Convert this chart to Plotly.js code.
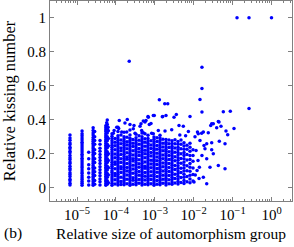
<!DOCTYPE html>
<html>
<head>
<meta charset="utf-8">
<script src="https://cdn.plot.ly/plotly-3.0.1.min.js"></script>
<style>html,body{margin:0;padding:0;background:#fff;}#chart{width:294px;height:247px;}</style>
</head>
<body>
<div id="chart"></div>
<script>
// Column x positions (relative size of automorphism group)
const colX = [
  6.6e-6, 1.35e-5, 2.0e-5, 2.6e-5, 2.85e-5, 3.9e-5, 5.5e-5, 6.0e-5, 6.4e-5,
  7.94e-5, 1.13e-4, 1.62e-4, 2.3e-4, 3.29e-4, 4.69e-4, 6.68e-4, 9.53e-4, 1.36e-3, 1.94e-3, 2.77e-3, 3.95e-3, 5.63e-3, 8.03e-3,
  9.5e-5, 1.35e-4, 1.93e-4, 2.75e-4, 3.93e-4, 5.6e-4, 7.98e-4, 1.14e-3, 1.62e-3, 2.32e-3, 3.3e-3, 4.71e-3, 6.72e-3, 9.6e-3
];
// Relative kissing numbers for each column
const colY = [
  [0.016,0.027,0.041,0.05,0.066,0.078,0.088,0.104,0.113,0.127,0.142,0.151,0.166,0.177,0.19,0.205,0.214,0.229,0.238,0.254,0.263,0.279,0.292,0.31],
  [0.015,0.026,0.036,0.049,0.058,0.07,0.083,0.092,0.105,0.117,0.128,0.139,0.151,0.163,0.174,0.186,0.197,0.21,0.222,0.233,0.245,0.257,0.268,0.281,0.293,0.305,0.318,0.333],
  [0.016,0.04,0.062,0.087,0.112,0.135,0.17,0.208],
  [0.015,0.024,0.035,0.047,0.057,0.066,0.078,0.088,0.099,0.11,0.121,0.131,0.142,0.153,0.164,0.175,0.186,0.196,0.207,0.218,0.229,0.24,0.251,0.262,0.273,0.284,0.296,0.31,0.322,0.336,0.352],
  [0.02,0.043,0.072,0.094,0.116,0.148,0.17,0.201,0.224,0.256,0.278,0.3,0.33],
  [0.016,0.035,0.052,0.07,0.088,0.106,0.124,0.142,0.16,0.178,0.196,0.214,0.232,0.255,0.278],
  [0.015,0.025,0.036,0.046,0.057,0.067,0.079,0.089,0.1,0.111,0.121,0.132,0.143,0.154,0.164,0.175,0.186,0.197,0.207,0.218,0.229,0.24,0.25,0.262,0.273,0.284,0.295,0.306,0.318,0.33,0.341,0.352,0.365],
  [0.02,0.041,0.062,0.084,0.105,0.127,0.148,0.17,0.191,0.212,0.235,0.256,0.277,0.3,0.322,0.345,0.372,0.398],
  [0.03,0.075,0.118,0.16,0.2,0.245,0.29,0.335],
  [0.015,0.027,0.04,0.052,0.063,0.077,0.089,0.1,0.114,0.126,0.137,0.15,0.163,0.175,0.188,0.2,0.212,0.225,0.238,0.25,0.263,0.276,0.289,0.302,0.318],
  [0.016,0.029,0.041,0.055,0.066,0.08,0.092,0.104,0.117,0.129,0.142,0.154,0.166,0.179,0.191,0.204,0.216,0.229,0.241,0.254,0.266,0.279,0.292,0.305,0.33,0.355],
  [0.017,0.03,0.043,0.056,0.069,0.082,0.095,0.107,0.12,0.133,0.146,0.159,0.172,0.184,0.197,0.21,0.223,0.236,0.249,0.262,0.274,0.287,0.3,0.326],
  [0.015,0.028,0.041,0.053,0.066,0.078,0.091,0.103,0.116,0.128,0.141,0.153,0.166,0.178,0.191,0.203,0.216,0.228,0.241,0.253,0.266,0.278,0.291,0.31,0.34],
  [0.018,0.031,0.044,0.057,0.07,0.083,0.096,0.109,0.122,0.135,0.148,0.161,0.174,0.187,0.2,0.213,0.226,0.239,0.252,0.265,0.278,0.294,0.315],
  [0.016,0.029,0.042,0.054,0.067,0.08,0.093,0.106,0.119,0.131,0.144,0.157,0.17,0.183,0.196,0.208,0.221,0.234,0.247,0.26,0.273,0.286,0.3,0.322],
  [0.017,0.03,0.043,0.056,0.068,0.081,0.094,0.107,0.12,0.133,0.145,0.158,0.171,0.184,0.197,0.21,0.222,0.235,0.248,0.261,0.275,0.29,0.308],
  [0.015,0.028,0.04,0.053,0.066,0.079,0.092,0.104,0.117,0.13,0.143,0.156,0.168,0.181,0.194,0.207,0.22,0.232,0.245,0.258,0.271,0.285,0.298],
  [0.018,0.031,0.044,0.057,0.07,0.083,0.096,0.108,0.121,0.134,0.147,0.16,0.173,0.186,0.199,0.212,0.225,0.238,0.251,0.264,0.278,0.292],
  [0.016,0.029,0.043,0.056,0.069,0.082,0.095,0.109,0.122,0.135,0.148,0.161,0.175,0.188,0.201,0.214,0.227,0.24,0.254,0.268,0.283],
  [0.02,0.034,0.048,0.062,0.076,0.09,0.104,0.118,0.132,0.146,0.16,0.174,0.188,0.202,0.216,0.23,0.244,0.26,0.276],
  [0.022,0.037,0.052,0.068,0.083,0.099,0.114,0.13,0.145,0.161,0.176,0.192,0.207,0.223,0.238,0.255,0.272],
  [0.025,0.043,0.061,0.079,0.098,0.116,0.134,0.152,0.17,0.189,0.207,0.226,0.245,0.265],
  [0.03,0.052,0.074,0.097,0.12,0.143,0.166,0.19,0.214,0.238,0.262],
  [0.022,0.047,0.071,0.083,0.112,0.138,0.151,0.176,0.199,0.223,0.247,0.268,0.29],
  [0.019,0.036,0.062,0.09,0.111,0.124,0.149,0.171,0.195,0.218,0.233,0.258,0.281,0.31],
  [0.024,0.05,0.075,0.098,0.119,0.143,0.168,0.18,0.205,0.229,0.252,0.27,0.297],
  [0.021,0.044,0.059,0.085,0.11,0.132,0.157,0.17,0.192,0.218,0.243,0.261,0.284],
  [0.026,0.049,0.073,0.095,0.12,0.141,0.165,0.189,0.21,0.231,0.256,0.279,0.305],
  [0.02,0.045,0.067,0.089,0.114,0.127,0.152,0.176,0.2,0.22,0.244,0.267,0.288],
  [0.023,0.048,0.07,0.094,0.118,0.139,0.161,0.186,0.207,0.23,0.251,0.276],
  [0.021,0.042,0.066,0.091,0.113,0.136,0.159,0.181,0.203,0.227,0.249,0.272,0.294],
  [0.027,0.05,0.074,0.099,0.124,0.146,0.17,0.193,0.217,0.24,0.262,0.285],
  [0.024,0.047,0.072,0.096,0.119,0.142,0.166,0.19,0.211,0.236,0.259,0.28],
  [0.028,0.055,0.08,0.107,0.131,0.158,0.182,0.209,0.233,0.258,0.282],
  [0.031,0.06,0.089,0.115,0.144,0.172,0.2,0.229,0.255,0.28],
  [0.035,0.066,0.1,0.13,0.163,0.195,0.226,0.25],
  [0.04,0.078,0.116,0.155,0.19,0.224]
];
// Scattered points outside the dense columns
const outX = [
  1.22e-4,1.71e-4,2.3e-4,2.92e-4,4.17e-4,5.06e-4,6.81e-4,9.15e-4,1.6e-3,1.94e-3,1.96e-4,1.05e-4,8.58e-5,1.41e-4,1.9e-4,2.8e-4,3.1e-4,4.6e-4,5.6e-4,8.3e-4,1.23e-3,1.36e-3,1.83e-3,
  5.8e-5,6.3e-5,9.0e-5,1.18e-4,
  6.68e-4,9.7e-4,1.56e-3,3.12e-3,3.57e-3,8.03e-3,5.94e-4,7.98e-4,1.31e-3,1.8e-3,2.15e-3,
  1.63e-2,1.63e-2,1.45e-2,1.63e-2,0.0577,0.0873,0.264,0.0429,0.029,0.13,0.264,1.0,2.2e-4,
  4.42e-4,5.6e-4,7.22e-4,4.19e-3,5.4e-3,2.74e-2,3.19e-2,4.47e-2,5.03e-2,5.06e-4,9.15e-4,2.72e-3,1.77e-2,2.37e-2,3.9e-2,6.76e-2,7.48e-2,0.1086,1.31e-2,1.6e-2,
  2.9e-2,4.55e-2,6.38e-2,2.16e-2,1.95e-2,2.9e-2,4.29e-2,6.38e-2,2.16e-2,2.62e-2,3.19e-2,1.77e-2,2.16e-2,
  1.15e-2,1.29e-2,1.45e-2,1.22e-2,1.37e-2,1.02e-2,1.63e-2,1.84e-2,1.08e-2,1.25e-2,6.2e-3,7.3e-3,4.4e-3,1.1e-2,1.4e-2
];
const outY = [
  0.396,0.38,0.372,0.366,0.361,0.392,0.415,0.425,0.419,0.425,0.401,0.356,0.321,0.327,0.327,0.347,0.321,0.337,0.318,0.321,0.337,0.308,0.334,
  0.382,0.356,0.337,0.349,
  0.419,0.425,0.418,0.415,0.43,0.419,0.396,0.378,0.518,0.494,0.494,
  0.708,0.584,0.519,0.445,0.447,0.449,0.466,0.39,0.376,1.0,1.0,1.0,0.743,
  0.376,0.386,0.372,0.366,0.362,0.366,0.376,0.386,0.361,0.324,0.318,0.341,0.327,0.324,0.353,0.333,0.312,0.349,0.318,0.321,
  0.265,0.274,0.259,0.259,0.229,0.224,0.131,0.112,0.171,0.121,0.2,0.062,0.024,
  0.219,0.16,0.278,0.102,0.055,0.033,0.19,0.249,0.3,0.327,0.305,0.33,0.31,0.075,0.12
];
// Axis tick values and labels
const xTickVals = [1e-5, 1e-4, 1e-3, 1e-2, 1e-1, 1];
const xTickText = ['10<sup>−5</sup>','10<sup>−4</sup>','10<sup>−3</sup>','10<sup>−2</sup>','10<sup>−1</sup>','10<sup>0</sup>'];
const yTickVals = [0, 0.2, 0.4, 0.6, 0.8, 1];
const yTickText = ['0','0.2','0.4','0.6','0.8','1'];

const xs = [], ys = [];
colX.forEach((cx, i) => { colY[i].forEach(v => { xs.push(cx); ys.push(v); }); });
outX.forEach((v, i) => { xs.push(v); ys.push(outY[i]); });

const frame = '#808080';
const fontFam = 'Liberation Serif, serif';
const data = [{
  type: 'scatter', mode: 'markers', x: xs, y: ys,
  marker: {color: '#0000ff', size: 3.5, line: {width: 0}},
  hoverinfo: 'skip'
}];
const layout = {
  width: 294, height: 247,
  margin: {l: 50, r: 2, t: 1, b: 46},
  paper_bgcolor: '#ffffff', plot_bgcolor: '#ffffff',
  showlegend: false,
  font: {family: fontFam, size: 15, color: '#000'},
  xaxis: {
    type: 'log', range: [-5.694, 0.527],
    tickmode: 'array', tickvals: xTickVals, ticktext: xTickText,
    ticks: 'inside', ticklen: 4, tickcolor: frame, tickwidth: 1,
    minor: {ticks: 'inside', ticklen: 2, tickcolor: frame, dtick: 'D1', showgrid: false},
    showline: true, linecolor: frame, linewidth: 1, mirror: 'allticks',
    showgrid: false, zeroline: false, automargin: false,
    tickfont: {family: fontFam, size: 15},
    title: {text: 'Relative size of automorphism group', font: {family: fontFam, size: 15.5}, standoff: 6}
  },
  yaxis: {
    range: [-0.078, 1.098],
    tickmode: 'array', tickvals: yTickVals, ticktext: yTickText,
    ticks: 'inside', ticklen: 4, tickcolor: frame, tickwidth: 1,
    showline: true, linecolor: frame, linewidth: 1, mirror: 'allticks',
    showgrid: false, zeroline: false, automargin: false,
    tickfont: {family: fontFam, size: 15},
    title: {text: 'Relative kissing number', font: {family: fontFam, size: 16.5}, standoff: 7}
  },
  annotations: [{
    text: '(b)', xref: 'paper', yref: 'paper', x: -0.151, y: -0.16,
    xanchor: 'center', yanchor: 'middle', showarrow: false,
    font: {family: fontFam, size: 15.5, color: '#000'}
  }]
};
Plotly.newPlot('chart', data, layout, {displayModeBar: false, staticPlot: true});
</script>
</body>
</html>
